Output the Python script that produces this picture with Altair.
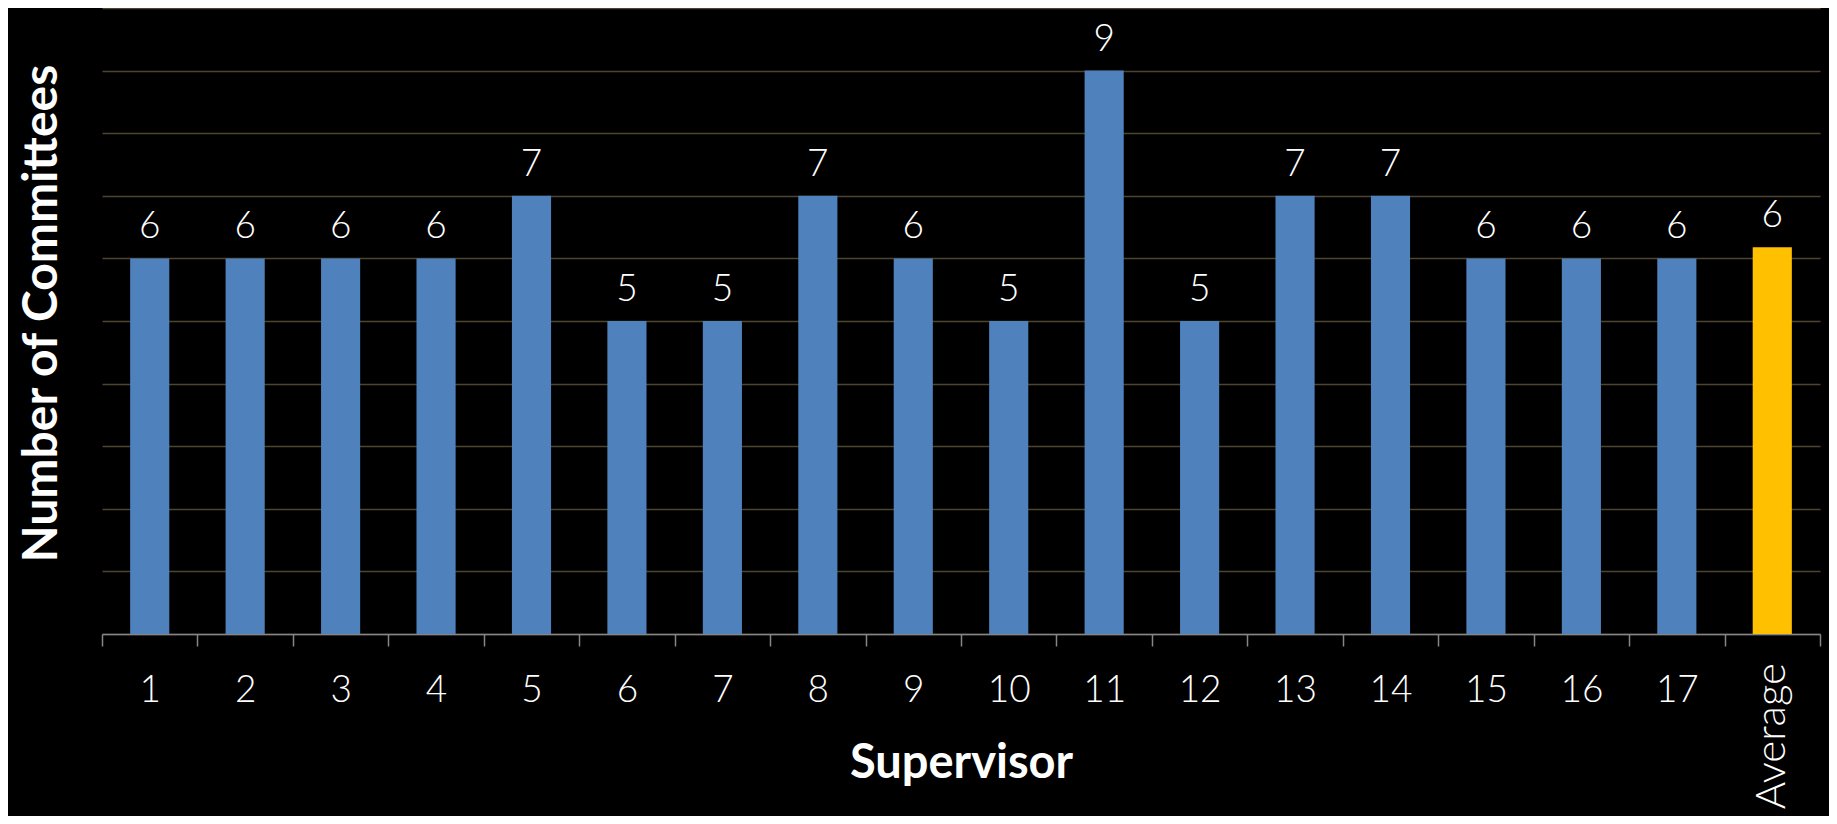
import altair as alt
import pandas as pd

supervisors = [str(i) for i in range(1, 18)] + ["Average"]
committees = [6, 6, 6, 6, 7, 5, 5, 7, 6, 5, 9, 5, 7, 7, 6, 6, 6, 6.18]

df = pd.DataFrame({"Supervisor": supervisors, "Committees": committees})

FONT = "Lato"

x = alt.X(
    "Supervisor:N",
    sort=supervisors,
    scale=alt.Scale(paddingInner=0, paddingOuter=0),
    axis=alt.Axis(
        title="Supervisor",
        titleFont=FONT,
        titleFontSize=47,
        titleFontWeight="bold",
        titleColor="white",
        titleBaseline="alphabetic",
        titleY=143,
        labelFont=FONT,
        labelFontSize=37,
        labelFontWeight=300,
        labelColor="white",
        labelAngle=0,
        labelBaseline="top",
        labelPadding=26,
        labelExpr="datum.value === 'Average' ? '' : datum.label",
        labelFlush=False,
        labelOverlap=False,
        domainColor="#868686",
        domainWidth=1.5,
        tickColor="#868686",
        tickWidth=1.5,
        tickSize=12,
        tickBand="extent",
        grid=False,
    ),
)

y = alt.Y(
    "Committees:Q",
    scale=alt.Scale(domain=[0, 10], nice=False),
    axis=alt.Axis(
        title="Number of Committees",
        titleFont=FONT,
        titleFontSize=48,
        titleFontWeight="bold",
        titleColor="white",
        titleBaseline="alphabetic",
        titleX=-46,
        titleY=305,
        labels=False,
        ticks=False,
        domain=False,
        grid=True,
        gridColor="#4d4530",
        gridWidth=1.5,
        values=list(range(0, 11)),
    ),
)

base = alt.Chart(df).encode(x=x, y=y)

bars = base.mark_bar(width={"band": 0.41}).encode(
    color=alt.condition(
        "datum.Supervisor === 'Average'", alt.value("#FFC000"), alt.value("#4F81BD")
    )
)

labels = base.mark_text(
    dy=-20, baseline="alphabetic", font=FONT, fontSize=37, fontWeight=300, color="white"
).encode(text=alt.Text("Committees:Q", format=".0f"))

avg_label = (
    alt.Chart(df)
    .transform_filter("datum.Supervisor === 'Average'")
    .mark_text(
        angle=270, align="right", baseline="middle", dx=-29,
        font=FONT, fontSize=42, fontWeight=300, color="white",
    )
    .encode(x=alt.X("Supervisor:N", sort=supervisors), y=alt.Y(datum=0), text="Supervisor:N")
)

chart = (
    alt.layer(bars, labels, avg_label)
    .properties(
        width=1718,
        height=626,
        background="black",
        padding={"left": 94, "top": 0, "right": 9, "bottom": 182},
        autosize=alt.AutoSizeParams(type="none"),
    )
    .configure_view(stroke=None)
)

chart.save("out.html", embed_options={"renderer": "svg", "actions": False})
